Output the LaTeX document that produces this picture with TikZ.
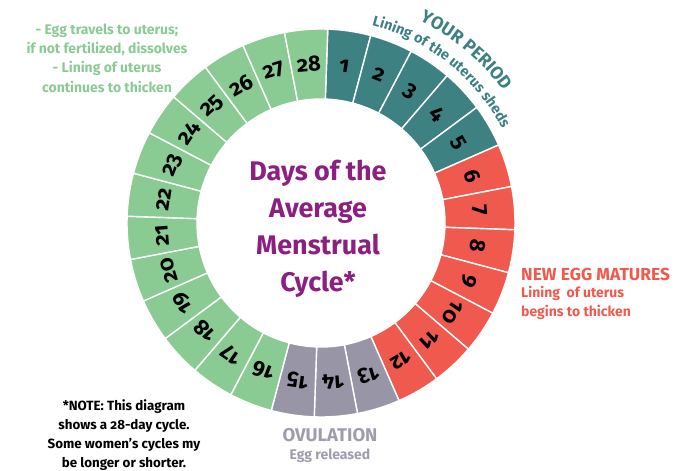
\documentclass[tikz,border=0pt]{standalone}
\usepackage{fontspec}
\setmainfont{Fira Sans}[Numbers=OldStyle,RawFeature={+onum}]
\usetikzlibrary{calc,positioning,decorations.text}
\definecolor{period}{RGB}{62,129,130}
\definecolor{eggred}{RGB}{240,89,77}
\definecolor{ovul}{RGB}{152,150,166}
\definecolor{ovultext}{RGB}{158,156,174}
\definecolor{luteal}{RGB}{138,203,148}
\definecolor{titlepurple}{RGB}{139,32,130}
\tikzset{
  daycell/.style={draw=white, line width=1.4pt},
  daynum/.style={font=\fontsize{22}{22}\selectfont\bfseries, text=black, inner sep=0pt},
  titletext/.style={align=center, font=\fontsize{27}{37}\selectfont\bfseries, text=titlepurple},
  sidetext/.style={align=center, font=\fontsize{14}{19.3}\selectfont\bfseries, inner sep=0pt},
  headtext/.style={font=\fontsize{17.5}{17.5}\selectfont\bfseries, inner sep=0pt}
}

\begin{document}
\begin{tikzpicture}[x=1bp,y=1bp]
  \useasboundingbox (0,0) rectangle (679,471);
  \coordinate (C) at (321,248);
  \def\rin{124}
  \def\rout{194}
  % the 28 days, clockwise from the top
  \foreach \d in {1,...,28}{
    \pgfmathsetmacro{\a}{88-(\d-1)*360/28}
    \pgfmathsetmacro{\b}{\a-360/28}
    \pgfmathsetmacro{\m}{\a-180/28}
    \ifnum\d<6 \def\col{period}\else\ifnum\d<13 \def\col{eggred}\else\ifnum\d<16 \def\col{ovul}\else\def\col{luteal}\fi\fi\fi
    \draw[daycell, fill=\col] ($(C)+(\a:\rin)$) arc[start angle=\a, end angle=\b, radius=\rin]
      -- ($(C)+(\b:\rout)$) arc[start angle=\b, end angle=\a, radius=\rout] -- cycle;
    \node[daynum, rotate=\m-90] (d\d) at ($(C)+(\m:159)$) {\d};
  }
  \node[titletext] (title) at (318,242) {Days of the\\Average\\Menstrual\\Cycle*};
  % curved labels of the period
  \path[decorate, decoration={text along path, text align=center, text color=period,
      text={|\fontsize{18}{18}\selectfont\bfseries|YOUR PERIOD}}]
    ($(C)+(85:225)$) arc[start angle=85, end angle=15, radius=225];
  \path[decorate, decoration={text along path, text align=center, text color=period,
      text={|\fontsize{14.5}{14.5}\selectfont\bfseries|Lining of the uterus sheds}}]
    ($(C)+(90:204)$) arc[start angle=90, end angle=13, radius=204];
  % side notes
  \node[sidetext, text=luteal] (lutnote) at (107,413) {- Egg travels to uterus;\\if not fertilized, dissolves\\- Lining of uterus\\continues to thicken};
  \node[headtext, text=eggred, anchor=west] (egghead) at (521,197) {NEW EGG MATURES};
  \node[sidetext, text=eggred, align=left, anchor=north west] (eggnote) at ($(egghead.south west)+(0,-5)$) {Lining\ \ of uterus\\begins to thicken};
  \node[headtext, text=ovultext, font=\fontsize{18.5}{18.5}\selectfont\bfseries] (ovhead) at (330,36) {OVULATION};
  \node[sidetext, text=ovultext, below=7bp of ovhead] (ovnote) {Egg released};
  \node[sidetext, text=black, font=\fontsize{13.4}{19}\selectfont\bfseries] (note) at (124,36) {*NOTE: This diagram\\shows a 28-day cycle.\\Some women’s cycles my\\be longer or shorter.};
\end{tikzpicture}
\end{document}
